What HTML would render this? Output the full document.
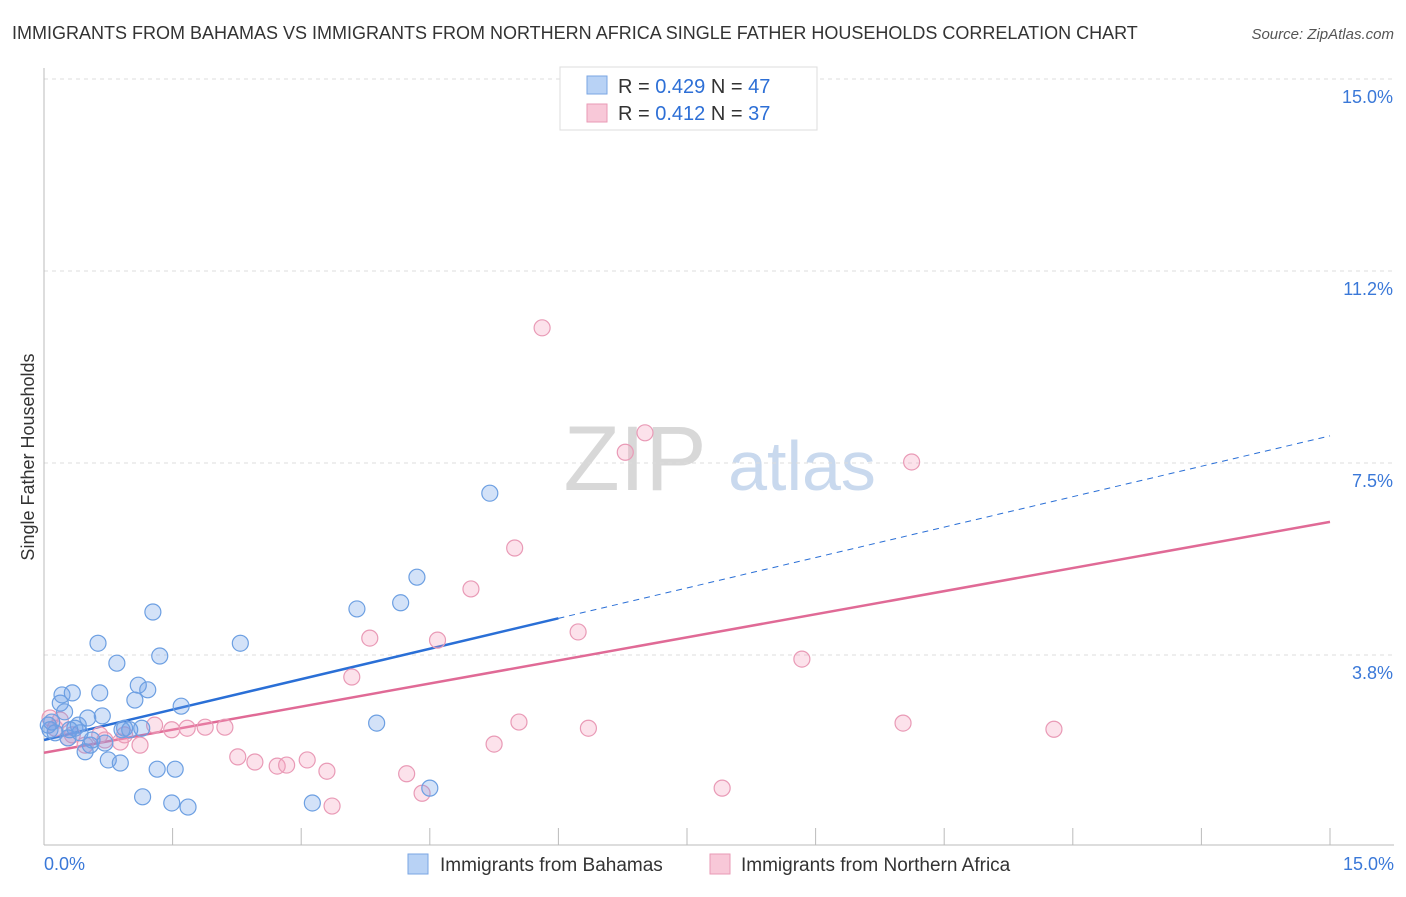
<!DOCTYPE html>
<html><head><meta charset="utf-8">
<style>
body{margin:0;background:#fff;font-family:"Liberation Sans",sans-serif;}
svg text{font-family:"Liberation Sans",sans-serif;}
</style></head>
<body>
<svg id="chart" width="1406" height="892" viewBox="0 0 1406 892" xmlns="http://www.w3.org/2000/svg">
<text x="12" y="39" font-size="18" fill="#333">IMMIGRANTS FROM BAHAMAS VS IMMIGRANTS FROM NORTHERN AFRICA SINGLE FATHER HOUSEHOLDS CORRELATION CHART</text>
<text x="1394" y="39" font-size="15" fill="#555" text-anchor="end" font-style="italic">Source: ZipAtlas.com</text>
<text transform="translate(34,457) rotate(-90)" font-size="18" fill="#333" text-anchor="middle">Single Father Households</text>
<g>
<text x="635" y="490" font-size="92" fill="#d8d8d8" text-anchor="middle" font-family="Liberation Serif, serif">ZIP</text>
<text x="802" y="490" font-size="70" fill="#c9d9ee" text-anchor="middle">atlas</text>
</g>
<g id="grid"></g>
<g id="axes"></g>
<g id="lines"></g>
<g id="points"></g>
<g>
<rect x="560" y="67" width="257" height="63" fill="#fff" stroke="#ddd"/>
<rect x="587" y="76" width="20" height="18" fill="#b8d2f5" stroke="#7aa6e3"/>
<text x="618" y="93" font-size="20" fill="#333">R = <tspan fill="#2d6fd6">0.429</tspan>   N = <tspan fill="#2d6fd6">47</tspan></text>
<rect x="587" y="104" width="20" height="18" fill="#f8c8d8" stroke="#e99ab6"/>
<text x="618" y="120" font-size="20" fill="#333">R =  <tspan fill="#2d6fd6">0.412</tspan>   N = <tspan fill="#2d6fd6">37</tspan></text>
</g>
<g>
<rect x="408" y="854" width="20" height="20" fill="#b8d2f5" stroke="#7aa6e3"/>
<text x="440" y="871" font-size="19" fill="#333">Immigrants from Bahamas</text>
<rect x="710" y="854" width="20" height="20" fill="#f8c8d8" stroke="#e99ab6"/>
<text x="741" y="871" font-size="19" fill="#333">Immigrants from Northern Africa</text>
</g>
</svg>
<script>
const yTicks=[3.75,7.5,11.25,15];
const yTickLabels=["3.8%","7.5%","11.2%","15.0%"];
const xTickCount=10;
const blueX=[0.07,0.09,0.13,0.19,0.21,0.24,0.28,0.33,0.36,0.40,0.42,0.48,0.51,0.54,0.56,0.63,0.65,0.68,0.71,0.75,0.85,0.89,0.91,0.94,1.00,1.06,1.10,1.14,1.15,1.21,1.27,1.32,1.35,1.49,1.53,1.60,1.68,2.29,3.13,3.65,3.88,4.16,4.35,4.50,5.20,0.05,0.30];
const blueY=[2.29,2.44,2.23,2.81,2.97,2.64,2.13,3.01,2.32,2.38,2.23,1.86,2.52,1.99,2.09,3.98,3.01,2.56,2.03,1.70,3.59,1.64,2.29,2.32,2.29,2.87,3.16,2.32,0.98,3.07,4.59,1.52,3.73,0.86,1.52,2.75,0.78,3.98,0.86,4.65,2.42,4.77,5.27,1.15,6.91,2.38,2.29];
const pinkX=[0.07,0.13,0.19,0.28,0.33,0.48,0.65,0.71,0.89,0.94,1.12,1.29,1.49,1.67,1.88,2.11,2.26,2.46,2.72,2.83,3.07,3.30,3.36,3.59,3.80,4.23,4.41,4.59,4.98,5.25,5.49,5.54,5.81,6.23,6.35,6.78,7.01,7.91,8.84,10.02,10.12,11.78];
const pinkY=[2.52,2.32,2.48,2.13,2.19,1.99,2.19,2.09,2.05,2.19,1.99,2.38,2.29,2.32,2.34,2.34,1.76,1.66,1.58,1.60,1.70,1.48,0.80,3.32,4.08,1.43,1.05,4.04,5.04,2.01,5.84,2.44,10.14,4.20,2.32,7.71,8.09,1.15,3.67,2.42,7.52,2.30];
const blueTrend=[2.09,8.03];
const pinkTrend=[1.84,6.35];
const blueSolidEnd=6.0;

const NS="http://www.w3.org/2000/svg";
const X0=44,X1=1330,Y0=847,PPY=51.2;
const xs=v=>X0+(X1-X0)*v/15;
const ys=v=>Y0-v*PPY;
function mk(tag,attrs,parent){const e=document.createElementNS(NS,tag);for(const k in attrs)e.setAttribute(k,attrs[k]);parent.appendChild(e);return e;}
const grid=document.getElementById('grid'),axes=document.getElementById('axes'),lines=document.getElementById('lines'),pts=document.getElementById('points'),svg=document.getElementById('chart');
yTicks.forEach((t,i)=>{
 const l=mk('line',{x1:X0,x2:1394,y1:ys(t),y2:ys(t),stroke:'#ddd','stroke-dasharray':'4,4'},grid);
 
 
 const tx=mk('text',{x:1393,y:ys(t)+24,'font-size':18,fill:'#3a78d8','text-anchor':'end'},axes);
 tx.textContent=yTickLabels[i];
 
 
});
const ya=mk('line',{x1:X0,x2:X0,y1:68,y2:845,stroke:'#bbb'},axes);


const xa=mk('line',{x1:X0,x2:1394,y1:845,y2:845,stroke:'#bbb'},axes);


for(let i=1;i<=xTickCount;i++){
 const v=15*i/xTickCount;
 const t=mk('line',{x1:xs(v),x2:xs(v),y1:828,y2:845,stroke:'#bbb'},axes);
 
 
}
const xl0=mk('text',{x:44,y:870,'font-size':18,fill:'#3a78d8'},axes);xl0.textContent='0.0%';


const xl1=mk('text',{x:1394,y:870,'font-size':18,fill:'#3a78d8','text-anchor':'end'},axes);xl1.textContent='15.0%';



function drawPts(X,Y,fill,stroke,name){X.forEach((x,i)=>{
 const c=mk('circle',{cx:xs(x),cy:ys(Y[i]),r:8,fill:fill,stroke:stroke,'stroke-width':1.2},pts);
 
 
});}
drawPts(pinkX,pinkY,'rgba(244,160,190,0.3)','#e99ab6','point-northern-africa');
drawPts(blueX,blueY,'rgba(110,160,232,0.3)','#6c9fe2','point-bahamas');

const by=v=>blueTrend[0]+(blueTrend[1]-blueTrend[0])*v/15;
const b1=mk('line',{x1:xs(0),y1:ys(by(0)),x2:xs(blueSolidEnd),y2:ys(by(blueSolidEnd)),stroke:'#2a6fd6','stroke-width':2.5},lines);


const b2=mk('line',{x1:xs(blueSolidEnd),y1:ys(by(blueSolidEnd)),x2:xs(15),y2:ys(by(15)),stroke:'#2a6fd6','stroke-width':1,'stroke-dasharray':'6,5'},lines);


const p1=mk('line',{x1:xs(0),y1:ys(pinkTrend[0]),x2:xs(15),y2:ys(pinkTrend[1]),stroke:'#e06a96','stroke-width':2.5},lines);


</script>
</body></html>
